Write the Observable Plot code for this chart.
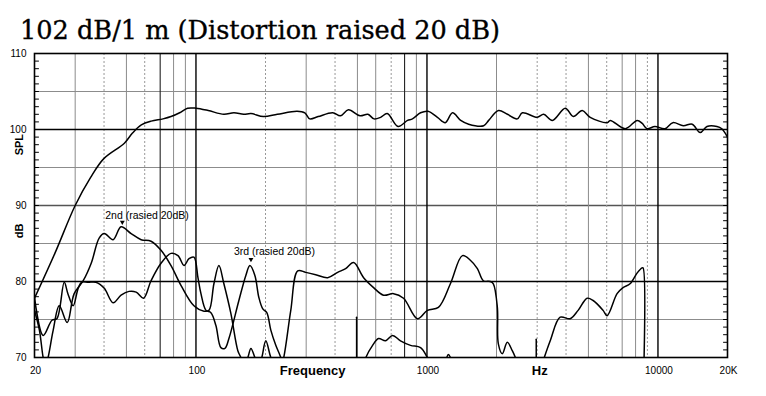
<!DOCTYPE html>
<html><head><meta charset="utf-8">
<script src="https://cdn.jsdelivr.net/npm/d3@7"></script>
<script src="https://cdn.jsdelivr.net/npm/@observablehq/plot@0.6"></script>
<style>
body{margin:0;background:#fff;}
#wrap{width:766px;height:396px;overflow:hidden;background:#fff;}
#title{display:block;}
#chart svg{display:block;}
</style></head><body>
<div id="wrap">
<svg id="title" width="766" height="45"><text x="20" y="39" font-family="DejaVu Serif" font-size="26" fill="#000" stroke="#000" stroke-width="0.35" textLength="480" lengthAdjust="spacingAndGlyphs">102 dB/1 m (Distortion raised 20 dB)</text></svg>
<div id="chart"></div>
</div>
<script>
// ---- data (frequency Hz, dB) ----
const splCurve = [
[20,77.8],[24.5,83.7],[30,90],[35,93.7],[40,96.2],[49,98.2],[53,99.5],[58,100.6],[64,101.1],[72,101.4],[78,101.7],[85,102.2],[92,102.8],[100,102.8],[113,102.5],[132,102.0],[146,102.2],[161,102.0],[173,102.1],[196,101.7],[225,102.0],[274,102.4],[296,102.2],[311,101.4],[338,101.7],[391,102.2],[422,101.8],[457,102.6],[513,101.8],[555,102.0],[590,101.4],[630,101.6],[673,102.1],[750,100.4],[824,101.2],[865,101.4],[938,102.2],[1010,102.4],[1110,101.6],[1200,100.9],[1290,102.2],[1400,101.2],[1515,100.7],[1760,100.5],[1850,101.2],[2040,102.5],[2230,102.0],[2460,101.4],[2590,102.2],[3000,101.6],[3200,102.0],[3490,101.2],[3970,102.8],[4300,101.7],[4700,102.5],[5090,101.6],[6030,100.9],[6215,101.2],[7220,100.1],[8130,101.2],[8550,100.8],[8970,100.1],[9700,100.4],[10720,100.1],[11600,100.9],[12870,100.5],[14070,100.7],[15224,99.6],[16300,100.4],[18000,100.4],[18900,100.1],[20000,99.0]
];
const harm2 = [
[20,76.2],[21.0,73.6],[21.8,70],[22.3,68.8],[22.9,70],[24.1,73.6],[25.6,76.8],[27.7,74.6],[29.7,78.4],[32.5,80.1],[35.2,82.4],[38.1,85.7],[40.1,86.3],[43.8,85.5],[47.4,87.2],[52.4,86.3],[57.9,85.5],[63.9,85.3],[70.6,84.1],[78.0,82.1],[86.1,79.5],[98.0,76.8],[108.3,76.1],[113.8,76.2],[119.6,79.7],[125.7,82.1],[132.1,79.7],[141.6,75.8],[151.8,70.9],[156.5,70],[161.2,68.9],[167.7,70],[173,71.2],[179.9,70],[187.2,68.9],[192.8,70],[200.6,72.2],[210.9,70],[221.6,68.7],[232.9,68.7],[239.9,70],[257.3,76.2],[275.8,81.4],[298.7,81.2],[329.9,80.9],[371.7,80.5],[410.6,81.2],[444.6,81.7],[481.4,82.5],[531.8,80.5],[587.4,79.2],[648.7,78.2],[716.7,78.4],[791.7,77.8],[909.9,75.1],[1005,76.2],[1121,76.6],[1263,79.7],[1424,83.4],[1541,82.8],[1653,81.7],[1754,80.1],[1881,80],[1938,79.7],[2017,76.6],[2037,71.8],[2120,70.5],[2227,72],[2341,70.9],[2460,69.4],[2600,67.5]
];
const harm3 = [
[20,77.9],[21.8,72.9],[23.8,74.9],[25.0,75.1],[26.9,79.9],[27.9,78.4],[29.4,76.8],[30.9,79.1],[32,79.9],[34.2,79.9],[36.9,79.9],[40.1,79.1],[43.8,77.2],[47.4,78.2],[51.3,78.7],[55.1,78.6],[59.3,77.8],[63.9,80.1],[70.6,82.4],[78,83.7],[83.6,83.4],[88.8,82.1],[93.3,83.0],[98,83.2],[102,80.5],[105.1,78.4],[110.5,76.2],[116.1,75.9],[122,74.2],[128.2,71.3],[133.5,71.2],[138.9,72.5],[153.4,77.5],[164.4,80.8],[171.2,82.1],[179.9,80.8],[187.2,77.9],[194.7,76.4],[202.6,75.9],[210.9,73.6],[221.6,71.6],[232.9,70],[245,67.5],[300,66],[450,66],[530,68.5],[542.5,69.9],[581.6,71.6],[617,72.5],[662,72.2],[710,72.9],[768,72.2],[849,71.6],[938,71.3],[1005,70],[1060,68.8],[1180,69.0],[1238,70.4],[1300,69.0],[1400,67]
];
const harm3High = [
[3100,68.5],[3187,69.6],[3417,72.2],[3773,75.3],[4168,75.1],[4512,76.2],[4935,77.8],[5241,77.5],[5787,76.2],[6022,75.5],[6652,78.4],[7060,79.2],[7570,79.7],[8117,81.1],[8530,81.8],[8615,81.8],[8680,68]
];
const dropA = [[496,75.3],[496,68]];
const dropB = [[2972,72.4],[2972,68]];

const annotations = [
  {label: "2nd (rasied 20dB)", textF: 40.5, textDb: 88.7, markF: 48, markDb: 87.8},
  {label: "3rd (rasied 20dB)", textF: 146, textDb: 83.9, markF: 173, markDb: 82.9}
];

// ---- axes / grid ----
const xTicks = [20, 100, 1000, 10000, 20000];
const xTickLabels = ["20", "100", "1000", "10000", "20K"];
const yTicks = [70, 80, 90, 100, 110];
const vGridMajor = [100, 1000, 10000];
const vGridDark = [70, 800];
const vGridSolid = [30, 50, 80, 90, 300, 500, 600, 900, 2000, 5000, 7000, 8000];
const vGridDotted = [40, 60, 200, 400, 700, 3000, 4000, 6000, 9000];
const hGridMajor = [80, 100];
const hGridMid = [90];
const hGridLight = [75, 85, 95, 105];
const minorDb = d3.range(71, 110);
const axisTitles = [{text: "SPL", db: 96.6}, {text: "dB", db: 85.7}];
const xTitles = [{text: "Frequency", f: 320}, {text: "Hz", f: 3077}];

const series = [
  {name: "SPL", pts: splCurve},
  {name: "2nd", pts: harm2},
  {name: "3rd", pts: harm3},
  {name: "3rd-high", pts: harm3High},
  {name: "dropA", pts: dropA},
  {name: "dropB", pts: dropB}
];
const rows = series.flatMap(s => s.pts.map(([f, db]) => ({series: s.name, f, db})));
const xLabelRows = xTicks.map((f, i) => ({f, label: xTickLabels[i]}));

const tickShape = {draw(ctx, l) { ctx.moveTo(0, 0); ctx.lineTo(0, -l); }};

const chart = Plot.plot({
  width: 766, height: 351,
  marginTop: 8, marginBottom: 39, marginLeft: 34, marginRight: 39,
  style: {fontFamily: "'Liberation Sans', Arial, sans-serif", fontSize: "10px", color: "#000", background: "#fff", overflow: "visible"},
  x: {type: "log", domain: [20, 20000], axis: null},
  y: {domain: [70, 110], axis: null},
  marks: [
    Plot.ruleY(hGridLight, {stroke: "#8c8c8c", strokeWidth: 1}),
    Plot.ruleY(hGridMid, {stroke: "#555", strokeWidth: 1.3}),
    Plot.ruleX(vGridDotted, {stroke: "#999", strokeWidth: 1, strokeDasharray: "2,2"}),
    Plot.ruleX(vGridSolid, {stroke: "#8c8c8c", strokeWidth: 1}),
    Plot.ruleX(vGridDark, {stroke: "#222", strokeWidth: 1.1}),
    Plot.ruleX(vGridMajor, {stroke: "#000", strokeWidth: 1.4}),
    Plot.ruleY(hGridMajor, {stroke: "#000", strokeWidth: 1.4}),
    Plot.vector(minorDb, {y: d => d, frameAnchor: "left", length: 4, rotate: 90, anchor: "start", shape: tickShape, stroke: "#000", strokeWidth: 1}),
    Plot.vector(minorDb, {y: d => d, frameAnchor: "right", length: 4, rotate: -90, anchor: "start", shape: tickShape, stroke: "#000", strokeWidth: 1}),
    Plot.line(rows, {x: "f", y: "db", z: "series", curve: "catmull-rom", stroke: "#000", strokeWidth: 1.5, clip: true}),
    Plot.frame({stroke: "#000", strokeWidth: 1.6}),
    Plot.text(yTicks, {y: d => d, text: d => String(d), frameAnchor: "left", textAnchor: "end", dx: -8, fontSize: 10, fill: "#000"}),
    Plot.text(xLabelRows, {x: "f", text: "label", frameAnchor: "bottom", dy: 16, dx: 1, fontSize: 10, fill: "#000"}),
    Plot.text(axisTitles, {y: "db", text: "text", frameAnchor: "left", dx: -15, rotate: -90, fontWeight: "bold", fontSize: 11}),
    Plot.text(xTitles, {x: "f", text: "text", frameAnchor: "bottom", dy: 17, fontWeight: "bold", fontSize: 13}),
    Plot.text(annotations, {x: "textF", y: "textDb", text: "label", textAnchor: "start", fontSize: 10.5}),
    Plot.dot(annotations, {x: "markF", y: "markDb", symbol: "triangle", rotate: 180, r: 1.8, fill: "#000", stroke: "none"})
  ]
});
document.getElementById("chart").appendChild(chart);
</script>
</body></html>
